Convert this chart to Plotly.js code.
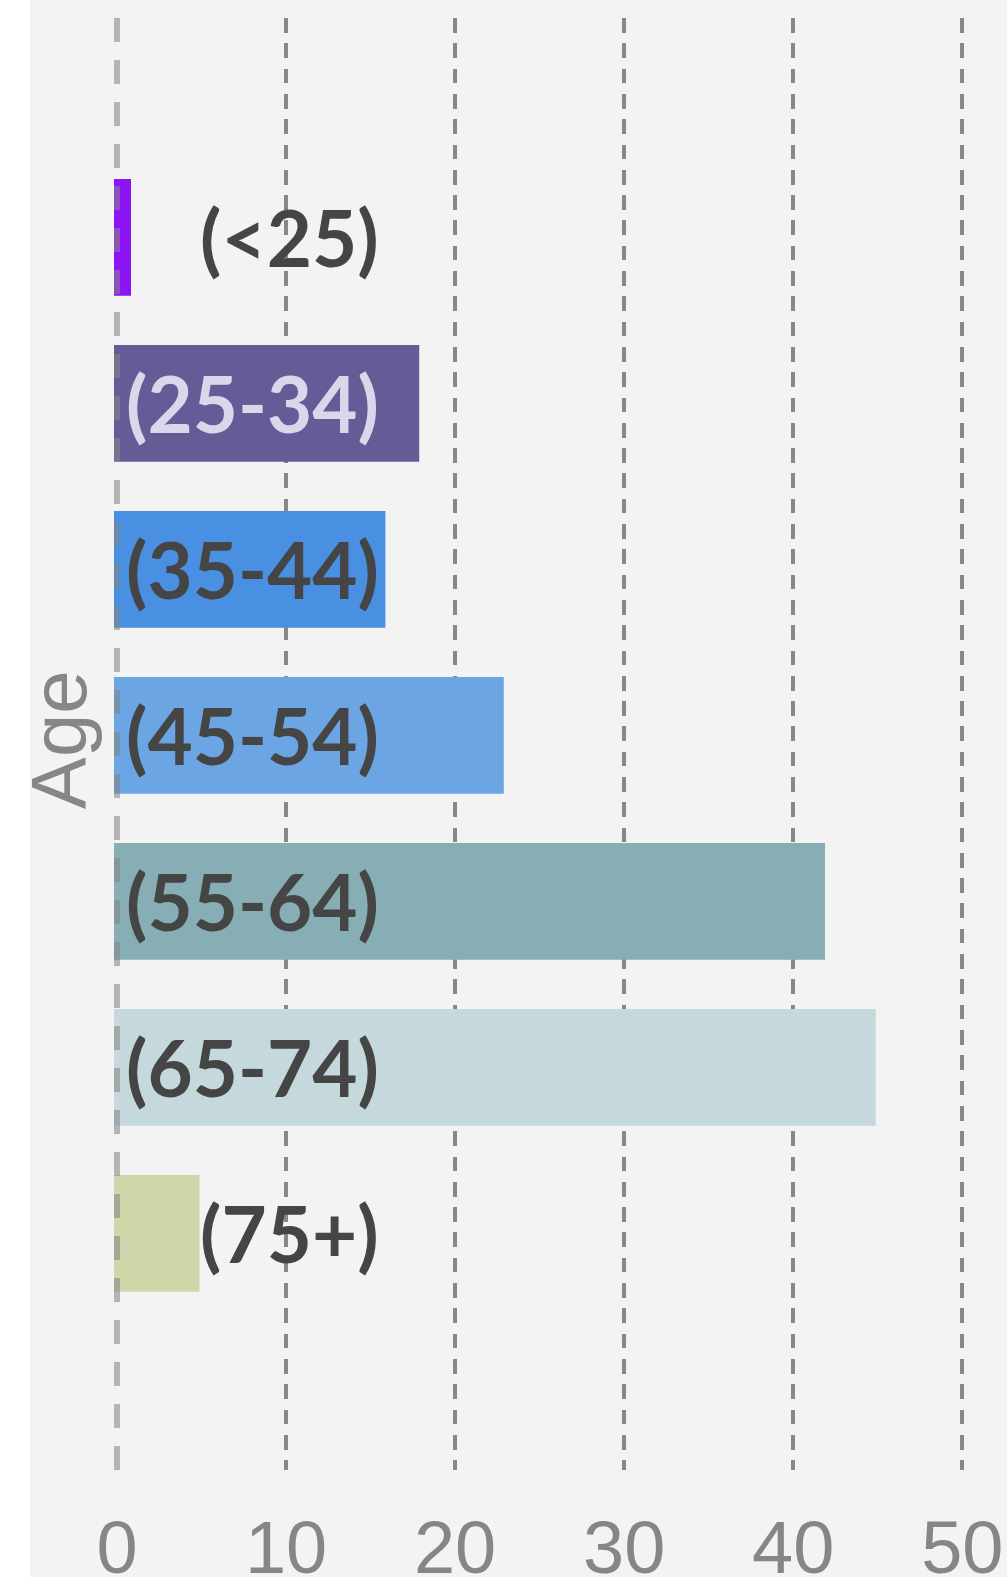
<!DOCTYPE html>
<html>
<head>
<meta charset="utf-8">
<script src="https://cdn.plot.ly/plotly-3.0.1.min.js"></script>
<style>
  html, body { margin: 0; padding: 0; background: #ffffff; }
  #chart { position: absolute; left: 30px; top: 0; width: 977px; height: 1577px; }
</style>
</head>
<body>
<div id="chart"></div>
<script>
// ---- data ----
const categories = ["(<25)", "(25-34)", "(35-44)", "(45-54)", "(55-64)", "(65-74)", "(75+)"];
const values = [0.65, 17.7, 15.7, 22.7, 41.7, 44.7, 4.7];
const barColors = ["#8c14f7", "#635c96", "#4a90e2", "#6ca5e3", "#86aeb4", "#c5d9dd", "#cfd6a9"];
const labelColors = ["#454545", "#d9d8ea", "#454545", "#454545", "#454545", "#454545", "#454545"];
const xTickVals = [0, 10, 20, 30, 40, 50];
const xTickText = ["0", "10", "20", "30", "40", "50"];
const yTitle = "Age";

const trace = {
  type: "bar",
  orientation: "h",
  y: categories,
  x: values,
  marker: { color: barColors, line: { color: barColors, width: 6 } },
  hoverinfo: "none",
  showlegend: false
};

const annotations = categories.map((c, i) => ({
  xref: "paper", yref: "y",
  x: 0.3181, y: c,
  xanchor: "right", yanchor: "middle",
  text: c,
  showarrow: false,
  font: { family: "Lato", size: 78, weight: 700, color: labelColors[i] }
}));

// y-axis title, drawn as a rotated annotation so it can sit at the paper's left edge
annotations.push({
  xref: "paper", yref: "paper",
  x: -0.0821, y: 0.5031,
  xanchor: "left", yanchor: "middle",
  textangle: -90,
  text: yTitle,
  showarrow: false,
  font: { family: "Liberation Sans, Arial", size: 78, color: "#868686" }
});

const layout = {
  width: 977, height: 1577,
  margin: { l: 59, r: 0, t: 18, b: 107, pad: 0 },
  paper_bgcolor: "#f3f3f3",
  plot_bgcolor: "#f3f3f3",
  bargap: 0.333,
  xaxis: {
    range: [-1.656, 52.644],
    tickvals: xTickVals,
    ticktext: xTickText,
    showgrid: true,
    gridcolor: "#888888",
    gridwidth: 4,
    griddash: "14.7px,10.6px",
    zeroline: true,
    zerolinecolor: "rgba(0,0,0,0)",
    zerolinewidth: 1,
    showline: false,
    ticks: "",
    ticklabelstandoff: 28,
    tickfont: { family: "Liberation Sans, Arial", size: 74, color: "#868686" },
    automargin: false,
    fixedrange: true
  },
  yaxis: {
    type: "category",
    categoryorder: "array",
    categoryarray: categories,
    range: [7.426, -1.321],
    showticklabels: false,
    showgrid: false,
    zeroline: false,
    showline: false,
    ticks: "",
    automargin: false,
    fixedrange: true
  },
  shapes: [{
    type: "line", xref: "x", yref: "paper",
    x0: 0, x1: 0, y0: 1, y1: 0,
    layer: "above",
    opacity: 0.57,
    line: { color: "#868686", width: 6, dash: "24px,18px" }
  }],
  annotations: annotations
};

Plotly.newPlot("chart", [trace], layout, { displayModeBar: false, staticPlot: true });
</script>
</body>
</html>
